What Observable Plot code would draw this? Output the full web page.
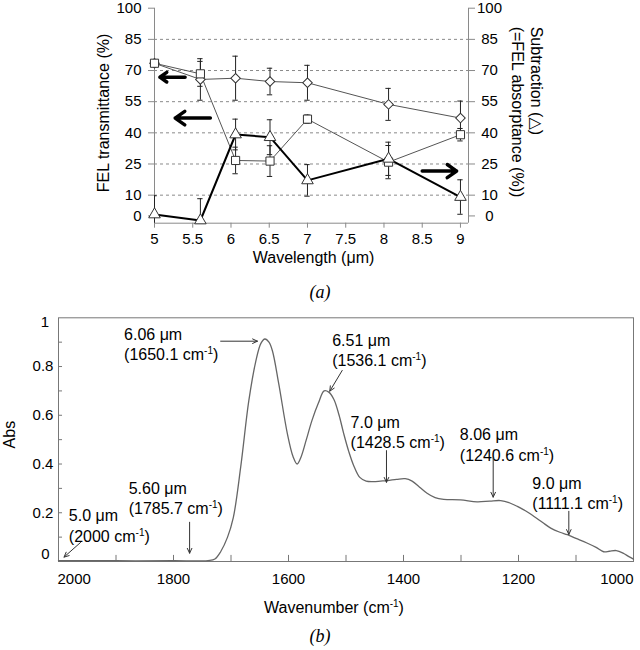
<!DOCTYPE html>
<html><head><meta charset="utf-8">
<script src="https://cdn.jsdelivr.net/npm/d3@7"></script>
<script src="https://cdn.jsdelivr.net/npm/@observablehq/plot@0.6"></script>
<style>
body{margin:0;background:#fff;}
#wrap{position:relative;width:640px;height:650px;overflow:hidden;}
#pa{position:absolute;left:0;top:0;}
#pb{position:absolute;left:0;top:300px;}
.cap{position:absolute;left:0;width:640px;text-align:center;font-family:"Liberation Serif","Times New Roman",serif;font-style:italic;font-size:18px;line-height:20px;}
</style></head><body>
<div id="wrap">
<div id="pa"></div>
<div class="cap" style="top:282px;">(a)</div>
<div id="pb"></div>
<div class="cap" style="top:626px;">(b)</div>
</div>
<script>
const FONT = '"Liberation Sans", Arial, "DejaVu Sans", sans-serif';

// ---------- Panel (a) data ----------
const wavelength  = [5, 5.6, 6.06, 6.51, 7.0, 8.06, 9.0];
const diamond     = [73.5, 65.7, 66.3, 64.7, 64.1, 53.7, 47.1];
const diamondErr  = [0, 10, 10.6, 6.4, 8.4, 7.7, 8.2];
const square      = [73.5, 68.4, 26.7, 26.4, 46.6, 25.9, 39.1];
const squareErr   = [0, 6, 6.4, 7.4, 2, 8, 3];
const triangle    = [0.7, -2.2, 39.2, 37.9, 17.1, 27.5, 9.1];
const triangleErr = [9, 10.5, 7.4, 8.4, 7.6, 8, 8.3];
const yTicksA = [0, 10, 25, 40, 55, 70, 85, 100];
const gridA = [10, 25, 40, 55, 70, 85];
const xTicksA = [5, 5.5, 6, 6.5, 7, 7.5, 8, 8.5, 9];
const xDomainA = [5, 9.105];
const yDomainA = [-3.5, 100];
const arrowX1A = [5.40, 5.73, 8.50];
const arrowX2A = [5.07, 5.27, 8.95];
const arrowYA  = [66.8, 47.1, 21.6];

// ---------- Panel (b) data ----------
const wavenumber = [2000,1900,1800,1740,1728,1718,1706,1696,1683,1669,1657,1648,1641,1634,1628,1617,1602,1592,1585,1578,1569,1559,1548,1538,1530,1521,1512,1504,1495,1486,1476,1465,1452,1440,1428,1412,1397,1385,1372,1359,1345,1330,1301,1272,1250,1231,1215,1202,1188,1173,1158,1144,1128,1115,1100,1081,1065,1052,1042,1030,1017,1008,1000];
const absorbance = [0.003,0.003,0.003,0.004,0.01,0.04,0.1,0.18,0.39,0.66,0.82,0.895,0.913,0.9,0.865,0.73,0.525,0.43,0.40,0.43,0.5,0.58,0.65,0.70,0.695,0.665,0.6,0.525,0.45,0.39,0.345,0.33,0.328,0.33,0.332,0.337,0.34,0.33,0.305,0.28,0.262,0.255,0.253,0.245,0.248,0.25,0.24,0.226,0.208,0.185,0.16,0.137,0.12,0.11,0.095,0.076,0.058,0.04,0.042,0.045,0.033,0.02,0.01];
const annotLabels = ["6.06 μm\n(1650.1 cm-1)","6.51 μm\n(1536.1 cm-1)","7.0 μm\n(1428.5 cm-1)","8.06 μm\n(1240.6 cm-1)","9.0 μm\n(1111.1 cm-1)","5.60 μm\n(1785.7 cm-1)","5.0 μm\n(2000 cm-1)"];
const annotWn  = [1886, 1524, 1492, 1302, 1176, 1878, 1982];
const annotAbs = [0.8945, 0.870, 0.533, 0.482, 0.284, 0.263, 0.150];
const arrWn1  = [1718, 1506.6, 1429.6, 1244, 1112.5, 1772, 1961.7];
const arrAbs1 = [0.904, 0.784, 0.455, 0.4255, 0.206, 0.161, 0.078];
const arrWn2  = [1654, 1528.2, 1429.6, 1244, 1112.5, 1772, 1990.4];
const arrAbs2 = [0.904, 0.699, 0.325, 0.264, 0.111, 0.034, 0.018];
const xTicksB = [1800, 1600, 1400, 1200];
const xMinorB = [1900, 1800, 1700, 1600, 1500, 1400, 1300, 1200, 1100];
const yTicksB = [0.2, 0.4, 0.6, 0.8];
const yMinorB = [0.1, 0.2, 0.3, 0.4, 0.5, 0.6, 0.7, 0.8, 0.9];
const xDomainB = [2000, 1000];
const yDomainB = [0, 1];

// ---------- Build panel (a) ----------
const A = wavelength.map((w, i) => ({w, dia: diamond[i], dErr: diamondErr[i], sq: square[i], sErr: squareErr[i], tri: triangle[i], tErr: triangleErr[i]}));
const arrowsA = arrowX1A.map((x1, i) => ({x1, x2: arrowX2A[i], y: arrowYA[i]}));
const capW = 0.035;
const errMarks = (key, errKey) => [
  Plot.ruleX(A.filter(d => d[errKey] > 0), {x: "w", y1: d => d[key] - d[errKey], y2: d => d[key] + d[errKey], stroke: "#222", strokeWidth: 1, clip: true}),
  Plot.ruleY(A.filter(d => d[errKey] > 0), {y: d => d[key] + d[errKey], x1: d => d.w - capW, x2: d => d.w + capW, stroke: "#222", clip: true}),
  Plot.ruleY(A.filter(d => d[errKey] > 0), {y: d => d[key] - d[errKey], x1: d => d.w - capW, x2: d => d.w + capW, stroke: "#222", clip: true})
];

const plotA = Plot.plot({
  width: 640, height: 275,
  marginLeft: 154, marginRight: 172, marginTop: 7.7, marginBottom: 52.3,
  style: {fontFamily: FONT, fontSize: "15px", color: "#000", background: "transparent", overflow: "visible"},
  x: {domain: xDomainA},
  y: {domain: yDomainA},
  marks: [
    Plot.ruleY(gridA, {stroke: "#8a8a8a", strokeDasharray: "3,3"}),
    Plot.ruleX(xDomainA, {stroke: "#8a8a8a"}),
    Plot.ruleY([yDomainA[0]], {stroke: "#8a8a8a"}),
    Plot.axisY({anchor: "left", ticks: yTicksA, tickSize: 6, tickPadding: 7, tickFormat: d => String(d), label: null, stroke: "#8a8a8a", fill: "#000"}),
    Plot.axisY({anchor: "right", ticks: yTicksA, tickSize: 6, tickPadding: 15, textAnchor: "middle", tickFormat: d => String(d), label: null, stroke: "#8a8a8a", fill: "#000"}),
    Plot.axisX({ticks: xTicksA, tickSize: 5, tickPadding: 5.5, tickFormat: d => String(d), label: null, stroke: "#8a8a8a", fill: "#000"}),
    ...errMarks("dia", "dErr"),
    ...errMarks("sq", "sErr"),
    ...errMarks("tri", "tErr"),
    Plot.line(A, {x: "w", y: "dia", stroke: "#555", strokeWidth: 1}),
    Plot.line(A, {x: "w", y: "sq", stroke: "#555", strokeWidth: 1}),
    Plot.line(A, {x: "w", y: "tri", stroke: "#000", strokeWidth: 2}),
    Plot.dot(A, {x: "w", y: "dia", symbol: "square", rotate: 45, r: 3.8, fill: "white", stroke: "#333", strokeWidth: 1}),
    Plot.dot(A, {x: "w", y: "sq", symbol: "square", r: 4.6, fill: "white", stroke: "#333", strokeWidth: 1}),
    Plot.dot(A, {x: "w", y: "tri", symbol: "triangle", r: 4.3, fill: "white", stroke: "#333", strokeWidth: 1}),
    Plot.arrow(arrowsA, {x1: "x1", y1: "y", x2: "x2", y2: "y", stroke: "#000", strokeWidth: 3.5, headLength: 12, headAngle: 70}),
    Plot.text(["Wavelength (μm)"], {frameAnchor: "bottom", dy: 35, dx: 2, lineAnchor: "middle", fontSize: 16}),
    Plot.text(["FEL transmittance (%)"], {frameAnchor: "left", rotate: -90, textAnchor: "middle", dx: -50.7, dy: -2.7, lineAnchor: "middle", fontSize: 16}),
    Plot.text(["Subtraction (△)\n(=FEL absorptance (%))"], {frameAnchor: "top-right", rotate: 90, textAnchor: "start", lineAnchor: "middle", lineHeight: 1.19, dx: 59, dy: 18.5, fontSize: 16})
  ]
});
document.getElementById("pa").appendChild(plotA);

// ---------- Build panel (b) ----------
const spectrum = wavenumber.map((wn, i) => ({wn, abs: absorbance[i]}));
const annots = annotLabels.map((label, i) => ({label, wn: annotWn[i], abs: annotAbs[i]}));
const arrowsB = arrWn1.map((x1, i) => ({x1, y1: arrAbs1[i], x2: arrWn2[i], y2: arrAbs2[i]}));
const tickLenY = 0.025, tickLenX = 7;

const plotB = Plot.plot({
  width: 640, height: 320,
  marginLeft: 58, marginRight: 7, marginTop: 17.3, marginBottom: 59,
  style: {fontFamily: FONT, fontSize: "15px", color: "#000", background: "transparent", overflow: "visible"},
  x: {domain: xDomainB},
  y: {domain: yDomainB},
  marks: [
    Plot.ruleX(xMinorB, {x: d => d, y1: yDomainB[0], y2: yDomainB[0] + tickLenY, stroke: "#777"}),
    Plot.ruleY(yMinorB, {y: d => d, x1: xDomainB[0], x2: xDomainB[0] - tickLenX, stroke: "#777"}),
    Plot.frame({stroke: "#777"}),
    Plot.line(spectrum, {x: "wn", y: "abs", curve: "catmull-rom", stroke: "#666", strokeWidth: 1.3}),
    Plot.axisX({ticks: xTicksB, tickSize: 0, tickPadding: 12, tickFormat: d => String(d), label: null}),
    Plot.axisX({ticks: [xDomainB[0]], tickSize: 0, tickPadding: 12, textAnchor: "start", dx: -1, tickFormat: d => String(d), label: null}),
    Plot.axisX({ticks: [xDomainB[1]], tickSize: 0, tickPadding: 12, textAnchor: "end", tickFormat: d => String(d), label: null}),
    Plot.axisY({ticks: yTicksB, tickSize: 0, tickPadding: 15.5, textAnchor: "middle", tickFormat: d => String(d), label: null}),
    Plot.axisY({ticks: [1], tickSize: 0, tickPadding: 13.5, textAnchor: "middle", dy: 4.4, tickFormat: d => String(d), label: null}),
    Plot.axisY({ticks: [0], tickSize: 0, tickPadding: 13, textAnchor: "middle", dy: -7, tickFormat: d => String(d), label: null}),
    Plot.text(["Abs"], {frameAnchor: "left", rotate: -90, textAnchor: "middle", dx: -49, dy: -5, lineAnchor: "middle", fontSize: 16}),
    Plot.text(["Wavenumber (cm-1)"], {frameAnchor: "bottom", dy: 46, dx: -12, lineAnchor: "middle", fontSize: 16}),
    Plot.text(annots, {x: "wn", y: "abs", text: "label", textAnchor: "start", lineAnchor: "middle", lineHeight: 1.28, fontSize: 16}),
    Plot.arrow(arrowsB, {x1: "x1", y1: "y1", x2: "x2", y2: "y2", stroke: "#333", strokeWidth: 1, headLength: 8, headAngle: 50})
  ]
});
document.getElementById("pb").appendChild(plotB);

// Render "cm-1" with a real superscript (kept as text)
function superscript(svg) {
  const nodes = [...svg.querySelectorAll("text, tspan")].filter(n => n.children.length === 0 && n.textContent.includes("cm-1"));
  for (const n of nodes) {
    const t = n.textContent;
    const i = t.indexOf("cm-1");
    const before = t.slice(0, i + 2), after = t.slice(i + 4);
    n.textContent = before;
    const sup = document.createElementNS("http://www.w3.org/2000/svg", "tspan");
    sup.setAttribute("font-size", "10");
    sup.setAttribute("dy", "-6");
    sup.textContent = "-1";
    n.appendChild(sup);
    const rest = document.createElementNS("http://www.w3.org/2000/svg", "tspan");
    rest.setAttribute("dy", "6");
    rest.textContent = after;
    n.appendChild(rest);
  }
}
superscript(plotB);
</script>
</body></html>
